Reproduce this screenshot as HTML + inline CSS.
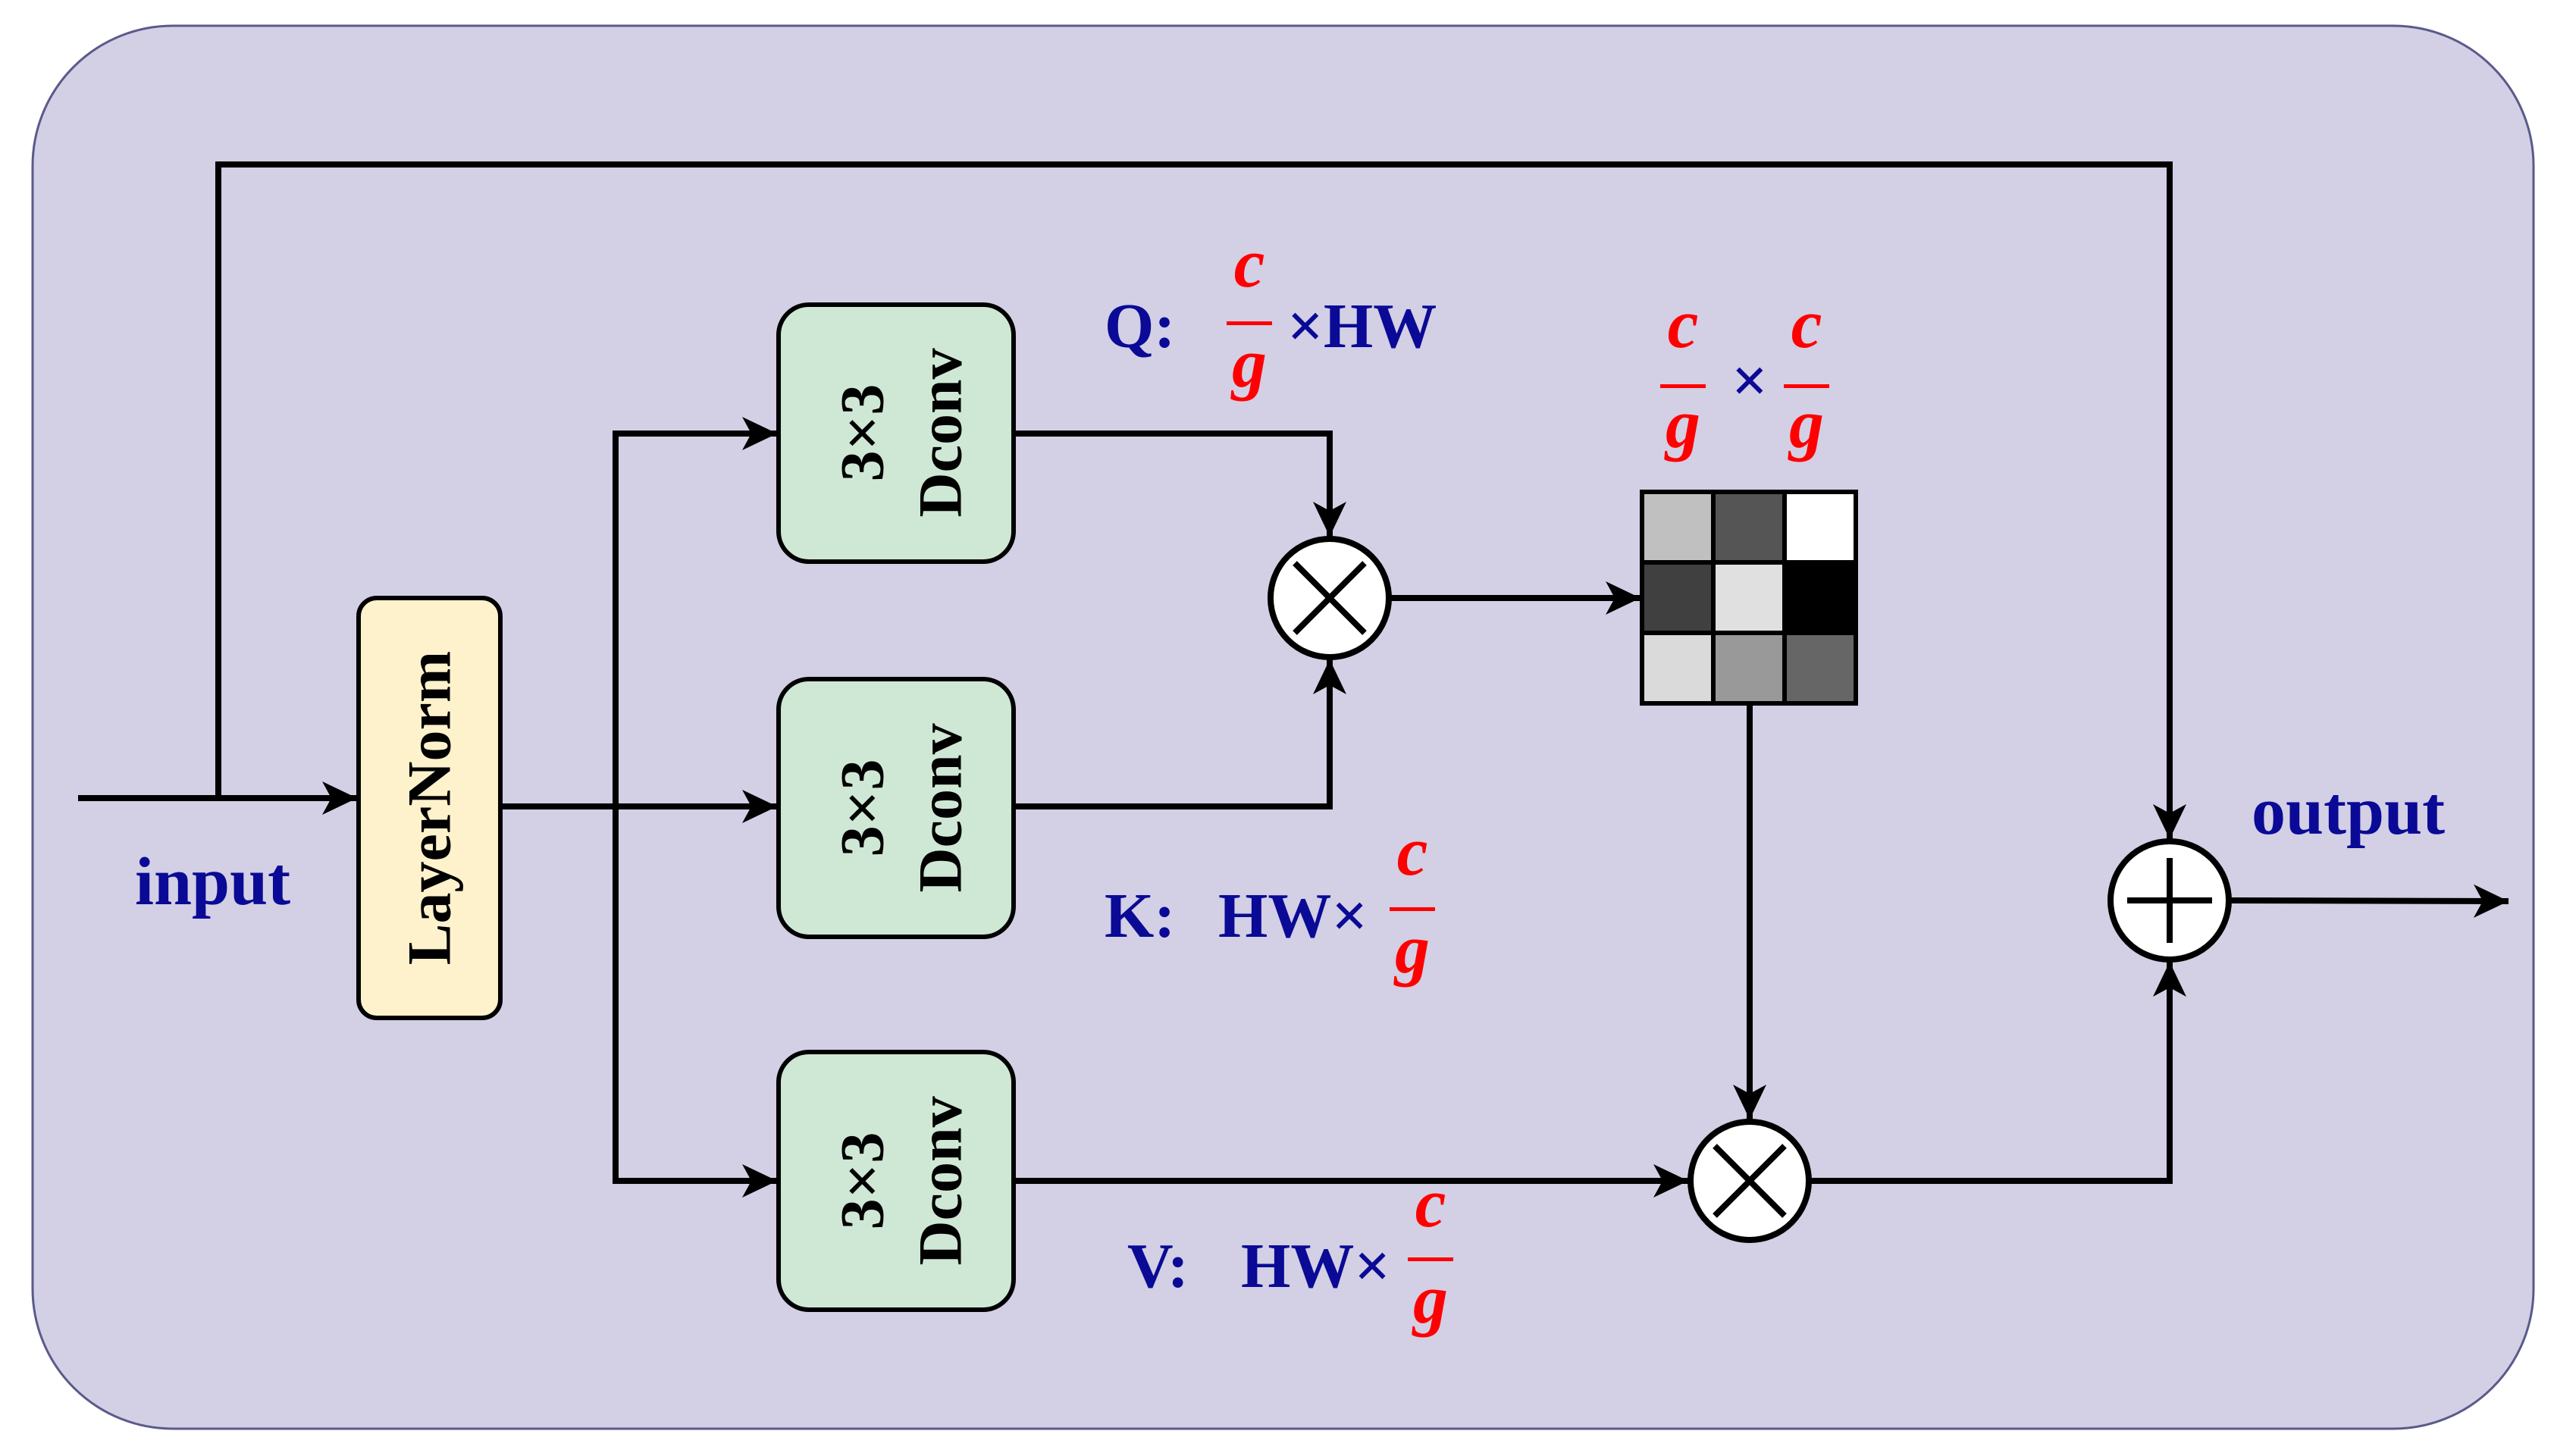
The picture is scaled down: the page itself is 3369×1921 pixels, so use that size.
<!DOCTYPE html>
<html><head><meta charset="utf-8"><style>html,body{margin:0;padding:0;background:#fff}svg{display:block}svg text{font-family:"Liberation Serif","DejaVu Serif",serif;font-weight:bold}</style></head><body>
<svg width="3369" height="1921" viewBox="0 0 3369 1921" xmlns="http://www.w3.org/2000/svg">
<defs>
<marker id="b" markerWidth="48" markerHeight="44" refX="46" refY="22" orient="auto" markerUnits="userSpaceOnUse"><path d="M0,0 L46,22 L0,44 L12,22z" fill="#000"/></marker></defs>
<rect x="43" y="34" width="3299" height="1851" rx="185" fill="#d3cfe5" stroke="#5a5a8a" stroke-width="3"/>
<g stroke="#000" stroke-width="8" fill="none">
<polyline points="288,1053 288,217 2862,217 2862,1107" marker-end="url(#b)"/>
<line x1="103" y1="1053" x2="471" y2="1053" marker-end="url(#b)"/>
<line x1="660" y1="1064" x2="1025" y2="1064" marker-end="url(#b)"/>
<polyline points="1025,572 812,572 812,1558 1025,1558" />
<line x1="812" y1="572" x2="1025" y2="572" marker-end="url(#b)"/>
<line x1="812" y1="1558" x2="1025" y2="1558" marker-end="url(#b)"/>
<polyline points="1337,572 1754,572 1754,708" marker-end="url(#b)"/>
<polyline points="1337,1064 1754,1064 1754,870" marker-end="url(#b)"/>
<line x1="1833" y1="789" x2="2164" y2="789" marker-end="url(#b)"/>
<line x1="2308" y1="928" x2="2308" y2="1477" marker-end="url(#b)"/>
<line x1="1337" y1="1558" x2="2227" y2="1558" marker-end="url(#b)"/>
<polyline points="2387,1558 2862,1558 2862,1269" marker-end="url(#b)"/>
<line x1="2942" y1="1188" x2="3309" y2="1189" marker-end="url(#b)"/>
</g>
<rect x="473" y="789" width="187" height="554" rx="24" fill="#fef2cc" stroke="#000" stroke-width="6"/>
<text transform="translate(566,1066) rotate(-90)" text-anchor="middle" dominant-baseline="central" font-size="82">LayerNorm</text>
<g fill="#cfe8d5" stroke="#000" stroke-width="6">
<rect x="1027" y="402" width="310" height="339" rx="40"/>
<rect x="1027" y="896" width="310" height="340" rx="40"/>
<rect x="1027" y="1388" width="310" height="340" rx="40"/>
</g>
<g font-size="82" text-anchor="middle" dominant-baseline="central">
<text transform="translate(1137,571) rotate(-90)">3×3</text><text transform="translate(1240,571) rotate(-90)">Dconv</text>
<text transform="translate(1137,1066) rotate(-90)">3×3</text><text transform="translate(1240,1066) rotate(-90)">Dconv</text>
<text transform="translate(1137,1558) rotate(-90)">3×3</text><text transform="translate(1240,1558) rotate(-90)">Dconv</text>
</g>
<g stroke="#000" stroke-width="8">
<circle cx="1754" cy="789" r="78" fill="#fff"/>
<line x1="1708" y1="743" x2="1800" y2="835"/><line x1="1800" y1="743" x2="1708" y2="835"/>
<circle cx="2308" cy="1558" r="78" fill="#fff"/>
<line x1="2262" y1="1512" x2="2354" y2="1604"/><line x1="2354" y1="1512" x2="2262" y2="1604"/>
<circle cx="2862" cy="1188" r="78" fill="#fff"/>
<line x1="2806" y1="1188" x2="2918" y2="1188"/><line x1="2862" y1="1132" x2="2862" y2="1244"/>
</g>
<g stroke="#000" stroke-width="6">
<rect x="2166" y="649" width="94" height="93" fill="#c0c0c0"/><rect x="2260" y="649" width="94" height="93" fill="#555"/><rect x="2354" y="649" width="94" height="93" fill="#fff"/>
<rect x="2166" y="742" width="94" height="93" fill="#404040"/><rect x="2260" y="742" width="94" height="93" fill="#e0e0e0"/><rect x="2354" y="742" width="94" height="93" fill="#000"/>
<rect x="2166" y="835" width="94" height="93" fill="#dadada"/><rect x="2260" y="835" width="94" height="93" fill="#999"/><rect x="2354" y="835" width="94" height="93" fill="#666"/>
</g>
<g fill="#0a0a96" font-size="90">
<text x="178" y="1193">input</text>
<text x="2970" y="1100">output</text>
<text x="1457" y="458" font-size="84">Q:</text>
<text x="1698" y="458" font-size="84">×HW</text>
<text x="1457" y="1236" font-size="84">K:</text>
<text x="1607" y="1236" font-size="84">HW×</text>
<text x="1487" y="1698" font-size="84">V:</text>
<text x="1637" y="1698" font-size="84">HW×</text>
<text x="2308" y="530" font-size="84" text-anchor="middle">×</text>
</g>
<g fill="#f00" font-style="italic" font-size="92" text-anchor="middle">
<text x="1648" y="378">c</text><rect x="1618" y="424" width="60" height="5"/><text x="1648" y="510">g</text>
<text x="2220" y="458">c</text><rect x="2190" y="507" width="60" height="5"/><text x="2220" y="590">g</text>
<text x="2383" y="458">c</text><rect x="2353" y="507" width="60" height="5"/><text x="2383" y="590">g</text>
<text x="1863" y="1154">c</text><rect x="1833" y="1197" width="60" height="5"/><text x="1863" y="1283">g</text>
<text x="1887" y="1618">c</text><rect x="1857" y="1659" width="60" height="5"/><text x="1887" y="1745">g</text>
</g>
</svg>
</body></html>
